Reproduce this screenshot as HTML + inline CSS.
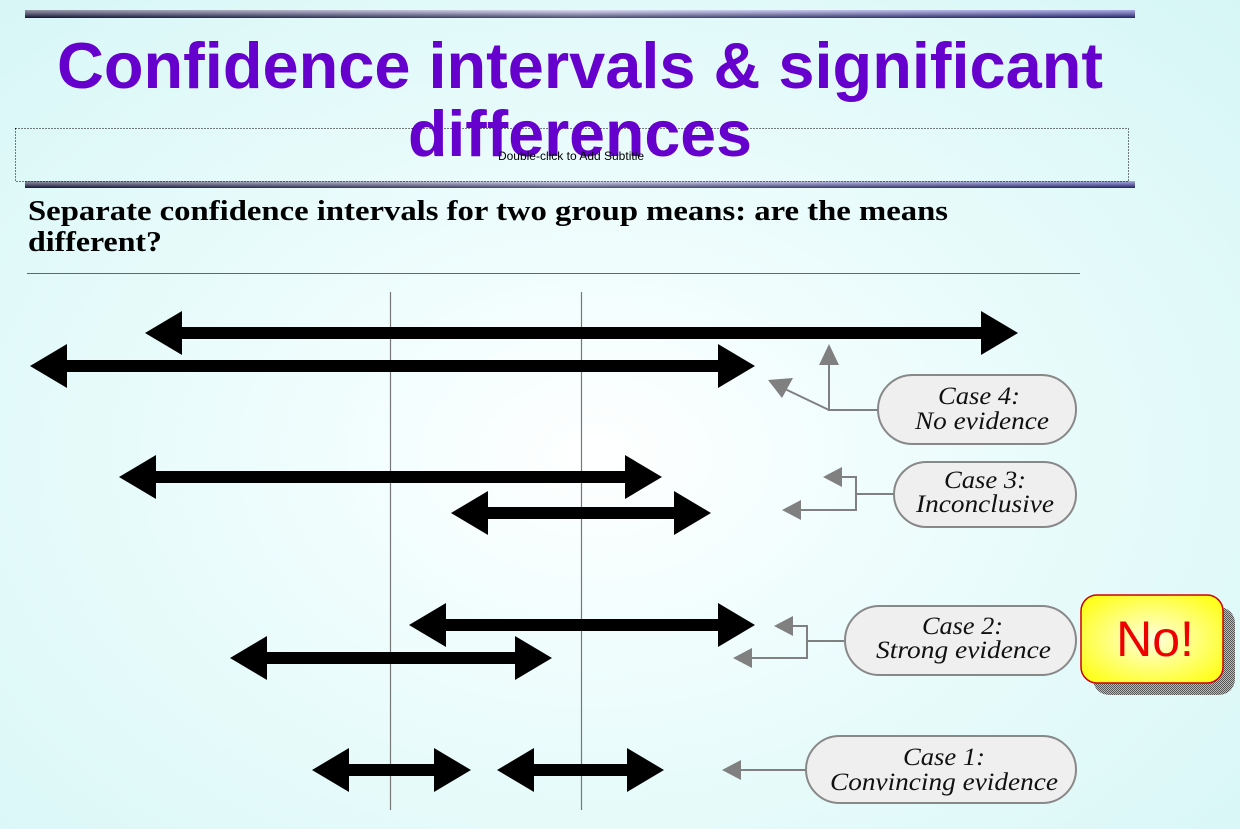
<!DOCTYPE html>
<html><head><meta charset="utf-8"><style>
html,body{margin:0;padding:0;}
body{width:1240px;height:829px;overflow:hidden;background:radial-gradient(ellipse at 48% 55%,#ffffff 0%,#f0fdfd 30%,#d6f6f6 100%);font-family:"Liberation Sans",sans-serif;}
</style></head><body>
<svg width="1240" height="829" viewBox="0 0 1240 829" xmlns="http://www.w3.org/2000/svg" style="position:absolute;left:0;top:0">
<defs>
<linearGradient id="bar" x1="0" x2="1" y1="0" y2="0"><stop offset="0" stop-color="#2a2a50"/><stop offset="0.5" stop-color="#b8b8e8"/><stop offset="1" stop-color="#5050c8"/></linearGradient>
<linearGradient id="barv" x1="0" x2="0" y1="0" y2="1"><stop offset="0" stop-color="#ffffff" stop-opacity="0.5"/><stop offset="1" stop-color="#000020" stop-opacity="0.6"/></linearGradient>
<radialGradient id="yel" cx="0.5" cy="0.5" r="0.6"><stop offset="0" stop-color="#ffffe0"/><stop offset="1" stop-color="#ffff20"/></radialGradient>
<pattern id="chk" width="2" height="2" patternUnits="userSpaceOnUse"><rect width="1" height="1" fill="#555"/><rect x="1" y="1" width="1" height="1" fill="#555"/><rect x="1" width="1" height="1" fill="#bbb"/><rect y="1" width="1" height="1" fill="#bbb"/></pattern>
</defs>
<rect x="25" y="10" width="1110" height="8" fill="url(#bar)"/><rect x="25" y="10" width="1110" height="8" fill="url(#barv)"/>
<rect x="25" y="181" width="1110" height="7" fill="url(#bar)"/><rect x="25" y="181" width="1110" height="7" fill="url(#barv)"/>
<rect x="15.5" y="128.5" width="1113" height="53" fill="none" stroke="#000" stroke-dasharray="1,2"/>
<text x="57" y="88" textLength="1046" lengthAdjust="spacingAndGlyphs" font-family="Liberation Sans" font-weight="bold" font-size="65" fill="#6600cc">Confidence intervals &amp; significant</text>
<text x="408" y="156" textLength="344" lengthAdjust="spacingAndGlyphs" font-family="Liberation Sans" font-weight="bold" font-size="65" fill="#6600cc">differences</text>
<text x="571" y="160" text-anchor="middle" font-family="Liberation Sans" font-size="12" fill="#000">Double-click to Add Subtitle</text>
<text x="28" y="220" textLength="920" lengthAdjust="spacingAndGlyphs" font-family="Liberation Serif" font-weight="bold" font-size="28" fill="#000">Separate confidence intervals for two group means: are the means</text>
<text x="28" y="251" textLength="134" lengthAdjust="spacingAndGlyphs" font-family="Liberation Serif" font-weight="bold" font-size="28" fill="#000">different?</text>
<line x1="27" y1="273.5" x2="1080" y2="273.5" stroke="#666" stroke-width="1"/>
<line x1="390.5" y1="292" x2="390.5" y2="810" stroke="#777" stroke-width="1.2"/>
<line x1="581.5" y1="292" x2="581.5" y2="810" stroke="#777" stroke-width="1.2"/>
<g fill="#000">
<polygon points="145,333 182,311 182,327 981,327 981,311 1018,333 981,355 981,339 182,339 182,355"/>
<polygon points="30,366 67,344 67,360 718,360 718,344 755,366 718,388 718,372 67,372 67,388"/>
<polygon points="119,477 156,455 156,471 625,471 625,455 662,477 625,499 625,483 156,483 156,499"/>
<polygon points="451,513 488,491 488,507 674,507 674,491 711,513 674,535 674,519 488,519 488,535"/>
<polygon points="409,625 446,603 446,619 718,619 718,603 755,625 718,647 718,631 446,631 446,647"/>
<polygon points="230,658 267,636 267,652 515,652 515,636 552,658 515,680 515,664 267,664 267,680"/>
<polygon points="312,770 349,748 349,764 434,764 434,748 471,770 434,792 434,776 349,776 349,792"/>
<polygon points="497,770 534,748 534,764 627,764 627,748 664,770 627,792 627,776 534,776 534,792"/>
</g>
<g stroke="#808080" stroke-width="2" fill="none">
<polyline points="878,410 829,410 829,360"/>
<line x1="829" y1="410" x2="785" y2="389"/>
<polyline points="894,494 856,494"/>
<polyline points="841,477 856,477 856,510 800,510"/>
<polyline points="845,641 807,641"/>
<polyline points="790,626 807,626 807,658 750,658"/>
<line x1="806" y1="770" x2="740" y2="770"/>
</g>
<g fill="#808080">
<polygon points="829,344 819,365 839,365"/>
<polygon points="768,380 793,378 782,398"/>
<polygon points="823,477 842,467 842,487"/>
<polygon points="782,510 801,500 801,520"/>
<polygon points="774,626 793,616 793,636"/>
<polygon points="733,658 752,648 752,668"/>
<polygon points="722,770 741,760 741,780"/>
</g>
<g fill="#efefef" stroke="#888" stroke-width="2">
<rect x="878" y="375" width="198" height="69" rx="34.5"/>
<rect x="894" y="462" width="182" height="65" rx="32.5"/>
<rect x="845" y="606" width="231" height="69" rx="34.5"/>
<rect x="806" y="736" width="270" height="67" rx="33.5"/>
</g>
<g font-family="Liberation Serif" font-style="italic" font-size="25" fill="#111" lengthAdjust="spacingAndGlyphs">
<text x="938" y="404" textLength="82" lengthAdjust="spacingAndGlyphs">Case 4:</text><text x="915" y="429" textLength="134" lengthAdjust="spacingAndGlyphs">No evidence</text>
<text x="944" y="488" textLength="82" lengthAdjust="spacingAndGlyphs">Case 3:</text><text x="916" y="512" textLength="138" lengthAdjust="spacingAndGlyphs">Inconclusive</text>
<text x="922" y="634" textLength="81" lengthAdjust="spacingAndGlyphs">Case 2:</text><text x="876" y="658" textLength="175" lengthAdjust="spacingAndGlyphs">Strong evidence</text>
<text x="903" y="765" textLength="82" lengthAdjust="spacingAndGlyphs">Case 1:</text><text x="830" y="790" textLength="228" lengthAdjust="spacingAndGlyphs">Convincing evidence</text>
</g>
<rect x="1093" y="607" width="142" height="88" rx="16" fill="url(#chk)"/>
<rect x="1081" y="595" width="142" height="88" rx="16" fill="url(#yel)" stroke="#d00000" stroke-width="1.5"/>
<text x="1155" y="656" text-anchor="middle" font-family="Liberation Sans" font-size="50" fill="#ee0000">No!</text>
</svg>
</body></html>
